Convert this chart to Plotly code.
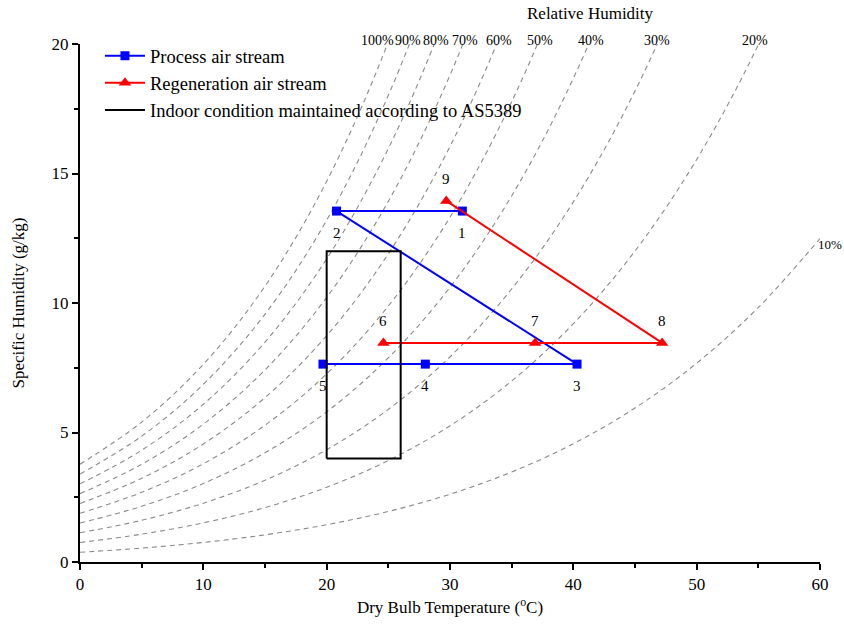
import numpy as np
import plotly.graph_objects as go

# ---------------- data ----------------
# Process air stream (states 1-5)
proc_labels = ["1", "2", "3", "4", "5"]
proc_T = [31.0, 20.8, 40.3, 28.0, 19.7]
proc_W = [13.55, 13.55, 7.64, 7.64, 7.64]

# Regeneration air stream (states 6-9)
regen_labels = ["6", "7", "8", "9"]
regen_T = [24.6, 36.9, 47.2, 29.7]
regen_W = [8.46, 8.46, 8.46, 13.94]

# Indoor condition box (AS5389)
rect_T = [20, 26]
rect_W = [4, 12]

# Saturation vapour pressure table (steam tables), kPa
sat_T = [0, 5, 10, 15, 20, 25, 30, 35, 40, 45, 50, 55, 60]
sat_P = [0.6113, 0.8726, 1.2282, 1.7057, 2.3392, 3.1697, 4.2467,
         5.6286, 7.3844, 9.5944, 12.351, 15.761, 19.946]
P_ATM = 101.325
rh_levels = [100, 90, 80, 70, 60, 50, 40, 30, 20, 10]
rh_label_T = [24.1, 26.6, 28.9, 31.2, 34.0, 37.3, 41.4, 46.8, 54.7]

FONT = "Liberation Serif, Times New Roman, serif"

fig = go.Figure()

# RH curves
ps = np.array(sat_P)
for rh in rh_levels:
    phi = rh / 100.0
    w = 622.0 * phi * ps / (P_ATM - phi * ps)
    fig.add_trace(go.Scatter(
        x=sat_T, y=w, mode="lines", showlegend=False, hoverinfo="skip",
        line=dict(color="#8a8a8a", width=1.1, dash="5px,4px", shape="spline", smoothing=1.0)))

fig.add_trace(go.Scatter(
    x=proc_T, y=proc_W, mode="lines+markers", name="Process air stream",
    line=dict(color="#0000ff", width=2),
    marker=dict(symbol="square", size=9, color="#0000ff")))

fig.add_trace(go.Scatter(
    x=regen_T, y=regen_W, mode="lines+markers", name="Regeneration air stream",
    line=dict(color="#ff0000", width=2),
    marker=dict(symbol="triangle-up", size=11, color="#ff0000")))

fig.add_trace(go.Scatter(
    x=[rect_T[0], rect_T[1], rect_T[1], rect_T[0], rect_T[0]],
    y=[rect_W[0], rect_W[0], rect_W[1], rect_W[1], rect_W[0]],
    mode="lines", name="Indoor condition maintained according to AS5389",
    line=dict(color="#000000", width=2)))

annotations = []
# point labels
for lab, t, w in zip(proc_labels, proc_T, proc_W):
    annotations.append(dict(x=t, y=w, text=lab, showarrow=False, yshift=-22,
                            font=dict(family=FONT, size=15, color="black")))
for lab, t, w in zip(regen_labels, regen_T, regen_W):
    annotations.append(dict(x=t, y=w, text=lab, showarrow=False, yshift=22,
                            font=dict(family=FONT, size=15, color="black")))
# RH labels
for rh, t in zip(rh_levels[:-1], rh_label_T):
    annotations.append(dict(x=t, y=20, text=f"{rh}%", showarrow=False, yshift=4,
                            xanchor="center", yanchor="middle",
                            font=dict(family=FONT, size=14, color="black")))
annotations.append(dict(x=60, y=12.24, text=f"{rh_levels[-1]}%", showarrow=False,
                        xanchor="left", yanchor="middle", xshift=-4,
                        font=dict(family=FONT, size=13, color="black")))
annotations.append(dict(x=0.69, y=1.0, xref="paper", yref="paper", text="Relative Humidity",
                        showarrow=False, yshift=31, xanchor="center", yanchor="middle",
                        font=dict(family=FONT, size=17, color="black")))

axis_common = dict(showgrid=False, zeroline=False, showline=True, linecolor="black",
                   linewidth=2, ticks="outside", ticklen=6, tickwidth=2, tickcolor="black",
                   tickfont=dict(family=FONT, size=17, color="black"),
                   mirror=False)

fig.update_layout(
    width=844, height=626,
    margin=dict(l=80, r=24, t=44, b=64),
    plot_bgcolor="white", paper_bgcolor="white",
    font=dict(family=FONT, color="black"),
    xaxis=dict(range=[0, 60], dtick=10, title=dict(text="Dry Bulb Temperature (<sup>o</sup>C)",
               font=dict(family=FONT, size=17), standoff=8),
               minor=dict(dtick=5, ticks="outside", ticklen=4, tickwidth=2, tickcolor="black"),
               **axis_common),
    yaxis=dict(range=[0, 20], dtick=5, title=dict(text="Specific Humidity (g/kg)",
               font=dict(family=FONT, size=17), standoff=23),
               minor=dict(dtick=2.5, ticks="outside", ticklen=4, tickwidth=2, tickcolor="black"),
               **axis_common),
    legend=dict(x=0.027, y=1.013, xanchor="left", yanchor="top", bgcolor="rgba(0,0,0,0)",
                itemwidth=40,
                font=dict(family=FONT, size=18.5, color="black"), tracegroupgap=0),
    annotations=annotations,
    showlegend=True,
)

fig.write_html("out.html")
